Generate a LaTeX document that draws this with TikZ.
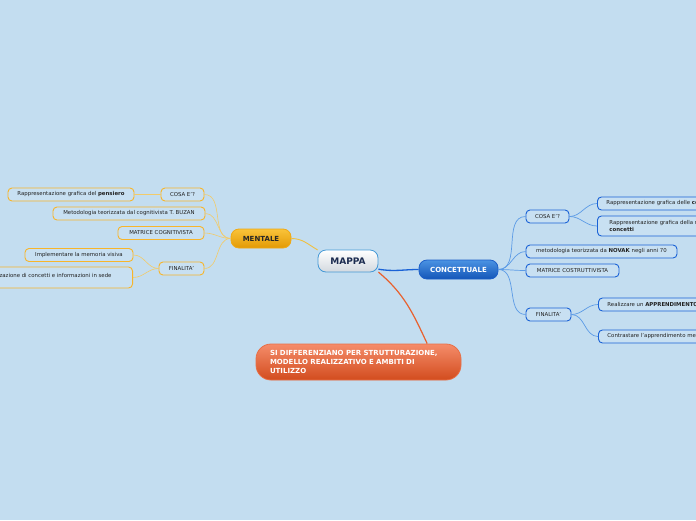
\documentclass[tikz,border=0pt]{standalone}
\usepackage{fontspec}
\setmainfont{DejaVu Sans}
\definecolor{bg}{HTML}{C3DDF0}
\definecolor{boxfill}{HTML}{C8E0F2}
\definecolor{corange}{HTML}{F7B52B}
\definecolor{cblue}{HTML}{1A62D6}
\definecolor{lorange}{HTML}{F2CB6A}
\definecolor{lblue}{HTML}{5C9BE6}
\definecolor{mentop}{HTML}{F9C33A}
\definecolor{menbot}{HTML}{E39A05}
\definecolor{menbord}{HTML}{EFA915}
\definecolor{conctop}{HTML}{4B93E3}
\definecolor{concbot}{HTML}{1456B8}
\definecolor{concbord}{HTML}{1C5FC8}
\definecolor{mapbord}{HTML}{4599D6}
\definecolor{mapbot}{HTML}{D3D9DF}
\definecolor{maptext}{HTML}{1B2B4F}
\definecolor{ortop}{HTML}{F58C6A}
\definecolor{orbot}{HTML}{D24C1E}
\definecolor{orbord}{HTML}{E76F47}
\definecolor{orlink}{HTML}{E8602E}
\definecolor{maplink}{HTML}{F0C040}
\definecolor{txt}{HTML}{222222}
\tikzset{
  cbox/.style={draw=corange, line width=0.9pt, rounded corners=4pt, fill=boxfill,
    font=\fontsize{5.4}{6.6}\selectfont, text=txt, inner xsep=5pt, inner ysep=0pt,
    minimum height=13pt},
  bbox/.style={cbox, draw=cblue},
  mainnode/.style={rounded corners=8pt, line width=0.8pt, inner sep=0pt,
    font=\fontsize{7}{8}\selectfont\bfseries},
  mlink/.style={draw=lorange, line width=0.6pt},
  blink/.style={draw=lblue, line width=0.7pt},
}
\begin{document}
\begin{tikzpicture}[x=1pt,y=1pt]
\fill[bg] (0,0) rectangle (696,-520);
\useasboundingbox (0,0) rectangle (696,-520);
\clip (0,0) rectangle (696,-520);

% main nodes
\node[mainnode, draw=mapbord, top color=white, bottom color=mapbot, text=maptext,
  minimum width=60pt, minimum height=22pt, font=\fontsize{9}{10}\selectfont\bfseries] (mappa) at (348,-261) {MAPPA};
\node[mainnode, draw=menbord, top color=mentop, bottom color=menbot, text=black!85,
  minimum width=60pt, minimum height=19pt] (mentale) at (261,-238.5) {MENTALE};
\node[mainnode, draw=concbord, top color=conctop, bottom color=concbot, text=white,
  minimum width=79pt, minimum height=19pt] (conc) at (458.5,-269.5) {CONCETTUALE};
\node[mainnode, rounded corners=15pt, draw=orbord, top color=ortop, bottom color=orbot, text=white,
  minimum width=205pt, minimum height=36pt, text width=177pt, inner xsep=14pt, align=left,
  font=\fontsize{7}{8.7}\selectfont\bfseries] (orange) at (358.5,-362)
  {SI DIFFERENZIANO PER STRUTTURAZIONE,\\MODELLO REALIZZATIVO E AMBITI DI\\UTILIZZO};

% mentale branch
\node[cbox, minimum width=43pt] (mcosa) at (182.5,-194.5) {COSA E'?};
\node[cbox, minimum width=126pt] (mpens) at (71,-194.5) {Rappresentazione grafica del \textbf{pensiero}};
\node[cbox, minimum width=152pt] (mmet) at (129,-213.5) {Metodologia teorizzata dal cognitivista T. BUZAN};
\node[cbox, minimum width=86pt] (mmat) at (161,-233) {MATRICE COGNITIVISTA};
\node[cbox, minimum width=45pt] (mfin) at (181.5,-268.5) {FINALITA'};
\node[cbox, minimum width=108pt] (mimp) at (79,-255) {Implementare la memoria visiva};
\node[cbox, anchor=east, minimum height=21pt, inner xsep=21pt] (morg) at (133,-277.5)
  {\raisebox{4pt}{Memorizzazione di concetti e informazioni in sede}};

% concettuale branch
\node[bbox, minimum width=43pt] (ccosa) at (547.5,-216.5) {COSA E'?};
\node[bbox, anchor=west, inner xsep=9pt] (crap1) at (597,-203.5) {Rappresentazione grafica delle \textbf{conoscenze}};
\node[bbox, anchor=west, inner xsep=12pt, align=left, minimum height=20pt] (crap2) at (597,-226)
  {Rappresentazione grafica della rete di\\\textbf{concetti}};
\node[bbox, minimum width=151pt] (cmet) at (601.5,-251.5) {metodologia teorizzata da \textbf{NOVAK} negli anni 70};
\node[bbox, minimum width=93pt] (cmat) at (572.5,-270.5) {MATRICE COSTRUTTIVISTA};
\node[bbox, minimum width=45pt] (cfin) at (548.5,-314.5) {FINALITA'};
\node[bbox, anchor=west, inner xsep=9pt] (creal) at (598,-304.5) {Realizzare un \textbf{APPRENDIMENTO SIGNIFICATIVO}};
\node[bbox, anchor=west, inner xsep=9pt] (ccon) at (598,-336.5) {Contrastare l'apprendimento meccanico};

% connectors from center
\draw[draw=maplink, line width=0.9pt] (mappa.160) to[out=150,in=0] (mentale.east);
\draw[draw=cblue, line width=1.3pt] (mappa.-15) to[out=-10,in=180] (conc.west);
\draw[draw=orlink, line width=1.2pt] (mappa.-20) to[out=-40,in=115] (orange.15);

% mentale links
\draw[mlink] (mentale.west) to[out=180,in=0] (mcosa.east);
\draw[mlink] (mentale.west) to[out=180,in=0] (mmet.east);
\draw[mlink] (mentale.west) to[out=180,in=0] (mmat.east);
\draw[mlink] (mentale.west) to[out=180,in=0] (mfin.east);
\draw[mlink] (mcosa.west) -- (mpens.east);
\draw[mlink] (mfin.west) to[out=180,in=0] (mimp.east);
\draw[mlink] (mfin.west) to[out=180,in=0] (morg.east);

% concettuale links
\draw[blink] (conc.east) to[out=0,in=180] (ccosa.west);
\draw[blink] (conc.east) to[out=0,in=180] (cmet.west);
\draw[blink] (conc.east) to[out=0,in=180] (cmat.west);
\draw[blink] (conc.east) to[out=0,in=180] (cfin.west);
\draw[blink] (ccosa.east) to[out=0,in=180] (crap1.west);
\draw[blink] (ccosa.east) to[out=0,in=180] (crap2.west);
\draw[blink] (cfin.east) to[out=0,in=180] (creal.west);
\draw[blink] (cfin.east) to[out=0,in=180] (ccon.west);
\end{tikzpicture}
\end{document}
